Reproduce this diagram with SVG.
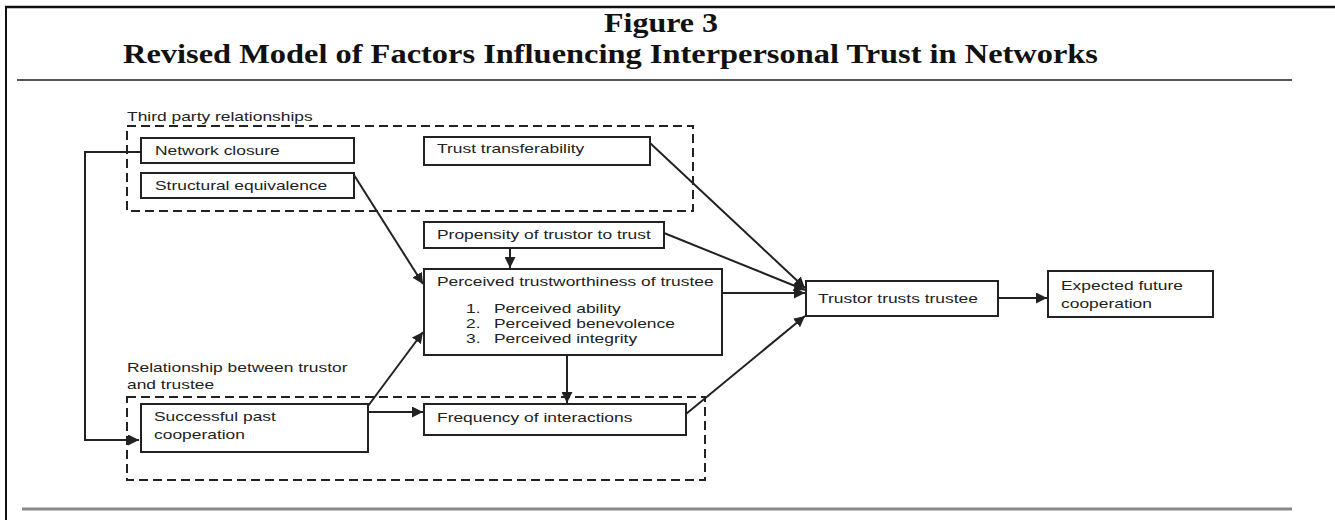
<svg xmlns="http://www.w3.org/2000/svg" width="1335" height="520" viewBox="0 0 1335 520">
<style>
.box{fill:#fff;stroke:#222;stroke-width:2}
.dash{fill:none;stroke:#222;stroke-width:2;stroke-dasharray:9 5}
.lbl{font-family:"Liberation Sans",Arial,sans-serif;font-size:13.2px;fill:#222}
.ttl{font-family:"Liberation Serif","Times New Roman",serif;font-weight:bold;font-size:28px;fill:#111}
.con{fill:none;stroke:#222;stroke-width:2}
</style>
<defs>
<marker id="ah" viewBox="0 0 10 10" refX="10" refY="5" markerWidth="5.5" markerHeight="5.5" orient="auto" markerUnits="strokeWidth">
<path d="M0,0 L10,5 L0,10 z" fill="#222"/>
</marker>
</defs>
<g id="frame">
<line x1="5" y1="7" x2="1335" y2="7" stroke="#111" stroke-width="2.5"/>
<line x1="6" y1="6" x2="6" y2="520" stroke="#111" stroke-width="2"/>
<line x1="17" y1="80" x2="1292" y2="80" stroke="#555" stroke-width="2"/>
<line x1="22" y1="509" x2="1292" y2="509" stroke="#888" stroke-width="3"/>
</g>
<g id="title">
<text class="ttl" x="604" y="32" textLength="114" lengthAdjust="spacingAndGlyphs">Figure 3</text>
<text class="ttl" x="123" y="63" textLength="975" lengthAdjust="spacingAndGlyphs">Revised Model of Factors Influencing Interpersonal Trust in Networks</text>
</g>
<g id="group-third-party">
<text class="lbl" transform="translate(127 121) scale(1.32 1)">Third party relationships</text>
<rect class="dash" x="127" y="126" width="566" height="85"/>
</g>
<g id="group-relationship">
<text class="lbl" transform="translate(127 372) scale(1.32 1)">Relationship between trustor</text>
<text class="lbl" transform="translate(127 389) scale(1.32 1)">and trustee</text>
<rect class="dash" x="127" y="397" width="578" height="83"/>
</g>
<g id="connectors">
<polyline class="con" points="141,152 85,152 85,440 139,440" marker-end="url(#ah)"/>
<line class="con" x1="354" y1="175" x2="423" y2="284" marker-end="url(#ah)"/>
<line class="con" x1="650" y1="143" x2="805" y2="288" marker-end="url(#ah)"/>
<line class="con" x1="664" y1="233" x2="805" y2="290" marker-end="url(#ah)"/>
<line class="con" x1="510" y1="248" x2="510" y2="268" marker-end="url(#ah)"/>
<line class="con" x1="722" y1="293" x2="805" y2="293" marker-end="url(#ah)"/>
<line class="con" x1="368" y1="406" x2="423" y2="332" marker-end="url(#ah)"/>
<line class="con" x1="368" y1="412" x2="423" y2="412" marker-end="url(#ah)"/>
<line class="con" x1="567" y1="355" x2="567" y2="403" marker-end="url(#ah)"/>
<line class="con" x1="686" y1="414" x2="805" y2="316" marker-end="url(#ah)"/>
<line class="con" x1="998" y1="298" x2="1047" y2="298" marker-end="url(#ah)"/>
</g>
<g id="node-network-closure">
<rect class="box" x="141" y="138" width="213" height="25"/>
<text class="lbl" transform="translate(155 155) scale(1.32 1)">Network closure</text>
</g>
<g id="node-structural-equivalence">
<rect class="box" x="141" y="173" width="213" height="25"/>
<text class="lbl" transform="translate(155 190) scale(1.32 1)">Structural equivalence</text>
</g>
<g id="node-trust-transferability">
<rect class="box" x="424" y="137" width="226" height="28"/>
<text class="lbl" transform="translate(437 153) scale(1.32 1)">Trust transferability</text>
</g>
<g id="node-propensity">
<rect class="box" x="424" y="222" width="240" height="26"/>
<text class="lbl" transform="translate(437 239) scale(1.32 1)">Propensity of trustor to trust</text>
</g>
<g id="node-perceived-trustworthiness">
<rect class="box" x="424" y="269" width="298" height="86"/>
<text class="lbl" transform="translate(437 286) scale(1.32 1)">Perceived trustworthiness of trustee</text>
<text class="lbl" transform="translate(466 313) scale(1.32 1)">1.</text>
<text class="lbl" transform="translate(494 313) scale(1.32 1)">Perceived ability</text>
<text class="lbl" transform="translate(466 328) scale(1.32 1)">2.</text>
<text class="lbl" transform="translate(494 328) scale(1.32 1)">Perceived benevolence</text>
<text class="lbl" transform="translate(466 343) scale(1.32 1)">3.</text>
<text class="lbl" transform="translate(494 343) scale(1.32 1)">Perceived integrity</text>
</g>
<g id="node-trustor-trusts">
<rect class="box" x="806" y="281" width="192" height="35"/>
<text class="lbl" transform="translate(818 303) scale(1.32 1)">Trustor trusts trustee</text>
</g>
<g id="node-expected-cooperation">
<rect class="box" x="1048" y="271" width="165" height="46"/>
<text class="lbl" transform="translate(1061 290) scale(1.32 1)">Expected future</text>
<text class="lbl" transform="translate(1061 308) scale(1.32 1)">cooperation</text>
</g>
<g id="node-successful-past">
<rect class="box" x="141" y="404" width="227" height="48"/>
<text class="lbl" transform="translate(154 421) scale(1.32 1)">Successful past</text>
<text class="lbl" transform="translate(154 439) scale(1.32 1)">cooperation</text>
</g>
<g id="node-frequency">
<rect class="box" x="424" y="404" width="262" height="31"/>
<text class="lbl" transform="translate(437 422) scale(1.32 1)">Frequency of interactions</text>
</g>
</svg>
